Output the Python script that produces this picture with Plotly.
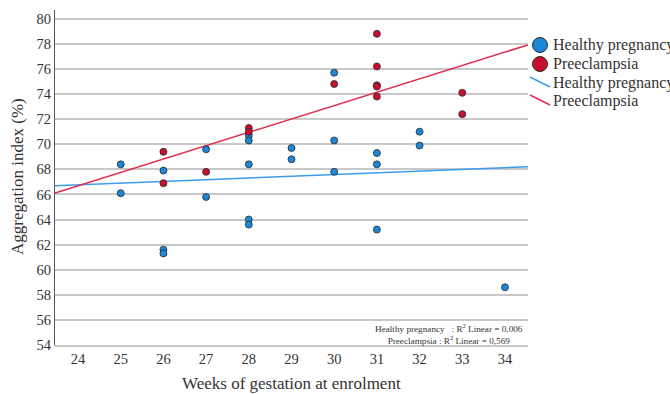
import numpy as np
import plotly.graph_objects as go

# Weeks of gestation at enrolment and aggregation index (%) per participant
healthy_weeks = [25, 25, 26, 26, 26, 27, 27, 28, 28, 28, 28, 28,
                 29, 29, 30, 30, 30, 31, 31, 31, 32, 32, 34]
healthy_index = [68.4, 66.1, 67.9, 61.6, 61.3, 69.6, 65.8, 70.7, 70.3, 68.4, 64.0, 63.6,
                 69.7, 68.8, 75.7, 70.3, 67.8, 69.3, 68.4, 63.2, 71.0, 69.9, 58.6]

pe_weeks = [26, 26, 27, 28, 28, 30, 31, 31, 31, 31, 31, 33, 33]
pe_index = [69.4, 66.9, 67.8, 71.3, 71.0, 74.8, 78.8, 76.2, 74.7, 74.6, 73.8, 74.1, 72.4]

week_ticks = list(range(24, 35))
index_ticks = list(range(54, 81, 2))

group_names = ["Healthy pregnancy", "Preeclampsia"]
r2_labels = ["0,006", "0,569"]

X_RANGE = [23.46, 34.54]
Y_RANGE = [54, 80.7]

W, H = 670, 394
ML, MR, MT, MB = 55, 142, 10, 49

BLUE = "#1b87d6"
RED = "#c8102e"
BLUE_LINE = "#3d9ceb"
RED_LINE = "#e02a4c"
EDGE = "#2b2b2b"
FONT = "'Liberation Serif', 'Times New Roman', Tinos, 'DejaVu Serif', serif"
TXT = "#333333"


def px(xpix):
    return (xpix - ML) / (W - ML - MR)


def py(ypix):
    return (H - MB - ypix) / (H - MT - MB)


fig = go.Figure()

# Least-squares fit lines spanning the full axis
xs = np.array(X_RANGE)
for wk, idx, col in [(healthy_weeks, healthy_index, BLUE_LINE),
                     (pe_weeks, pe_index, RED_LINE)]:
    slope, icpt = np.polyfit(wk, idx, 1)
    fig.add_trace(go.Scatter(x=xs, y=slope * xs + icpt, mode="lines",
                             line=dict(color=col, width=1.5),
                             showlegend=False, hoverinfo="skip"))

for wk, idx, col in [(healthy_weeks, healthy_index, BLUE),
                     (pe_weeks, pe_index, RED)]:
    fig.add_trace(go.Scatter(x=wk, y=idx, mode="markers",
                             marker=dict(color=col, size=7,
                                         line=dict(color=EDGE, width=0.8)),
                             showlegend=False))

shapes = []
annotations = []

# Hand-built legend: circles for points, slanted strokes for fit lines
rows = [45, 64, 83, 101]
for (ry, col) in zip(rows[:2], [BLUE, RED]):
    shapes.append(dict(type="circle", xref="paper", yref="paper",
                       xsizemode="pixel", ysizemode="pixel",
                       xanchor=px(540), yanchor=py(ry),
                       x0=-7.5, x1=7.5, y0=-7.5, y1=7.5,
                       fillcolor=col, line=dict(color=EDGE, width=1)))
for (ry, col) in zip(rows[2:], [BLUE_LINE, RED_LINE]):
    shapes.append(dict(type="line", xref="paper", yref="paper",
                       x0=px(530), y0=py(ry - 6), x1=px(550), y1=py(ry + 4),
                       line=dict(color=col, width=1.5)))
for ry, name in zip(rows, group_names + group_names):
    annotations.append(dict(text=name, xref="paper", yref="paper",
                            x=px(551), y=py(ry), xanchor="left", yanchor="middle",
                            showarrow=False,
                            font=dict(family=FONT, size=16, color=TXT)))

# R² note in the lower right of the plot
nb = "\u00a0"
r2_text = (f"{group_names[0]}{nb*3}:{nb}R<sup>2</sup>{nb}Linear{nb}={nb}{r2_labels[0]}<br>"
           f"{group_names[1]}{nb}:{nb}R<sup>2</sup>{nb}Linear{nb}={nb}{r2_labels[1]}")
annotations.append(dict(text=r2_text, xref="paper", yref="paper",
                        x=px(449), y=py(333.5), xanchor="center", yanchor="middle",
                        align="center", showarrow=False,
                        font=dict(family=FONT, size=9.2, color=TXT)))

# Axis titles
annotations.append(dict(text="Weeks of gestation at enrolment", xref="paper", yref="paper",
                        x=px(291.5), y=py(383), xanchor="center", yanchor="middle",
                        showarrow=False, font=dict(family=FONT, size=17, color=TXT)))
annotations.append(dict(text="Aggregation index (%)", xref="paper", yref="paper",
                        x=px(17), y=py(177), xanchor="center", yanchor="middle",
                        textangle=-90, showarrow=False,
                        font=dict(family=FONT, size=17, color=TXT)))

fig.update_layout(
    width=W, height=H,
    margin=dict(l=ML, r=MR, t=MT, b=MB),
    paper_bgcolor="white", plot_bgcolor="white",
    showlegend=False,
    font=dict(family=FONT, color=TXT),
    shapes=shapes, annotations=annotations,
    xaxis=dict(range=X_RANGE, tickvals=week_ticks, showgrid=False, zeroline=False,
               showline=True, linecolor="#c8c8c8", linewidth=1.5,
               ticks="", tickfont=dict(family=FONT, size=14.5, color=TXT)),
    yaxis=dict(range=Y_RANGE, tickvals=index_ticks, showgrid=True,
               gridcolor="#c8c8c8", gridwidth=1.5, zeroline=False,
               showline=True, linecolor="#555555", linewidth=1,
               ticks="", tickfont=dict(family=FONT, size=14.5, color=TXT)),
)

fig.write_html("out.html")
